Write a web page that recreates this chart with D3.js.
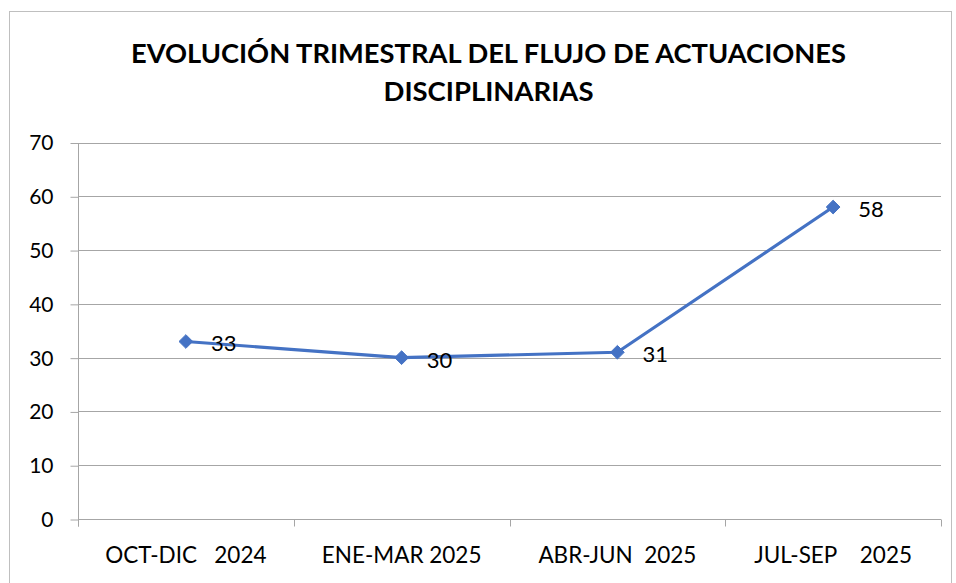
<!DOCTYPE html>
<html><head><meta charset="utf-8">
<script src="https://cdn.jsdelivr.net/npm/d3@7"></script>
<style>
html,body{margin:0;padding:0;background:#fff;}
text{font-family:Lato,"Open Sans",sans-serif;fill:#000;}
</style></head>
<body>
<svg id="chart" width="956" height="583"></svg>
<script>
const titleLines = ["EVOLUCIÓN TRIMESTRAL DEL FLUJO DE ACTUACIONES", "DISCIPLINARIAS"];
const categories = ["OCT-DIC   2024", "ENE-MAR 2025", "ABR-JUN  2025", "JUL-SEP    2025"];
const values = [33, 30, 31, 58];
const yTicks = [0, 10, 20, 30, 40, 50, 60, 70];

(function () {
const svg = d3.select("#chart");
const pLeft = 78, pRight = 941, pTop = 142.5, pBottom = 519;
const gridColor = "#a6a6a6";

// outer border
svg.append("rect").attr("x", 9.5).attr("y", 11.5).attr("width", 942).attr("height", 575)
  .attr("fill", "#fff").attr("stroke", "#bfbfbf").attr("stroke-width", 1);

const x = d3.scaleBand().domain(categories).range([pLeft, pRight]).paddingInner(0).paddingOuter(0);
const y = d3.scaleLinear().domain([0, 70]).range([pBottom, pTop]);

// gridlines
svg.append("g").selectAll("line").data(yTicks.filter(d => d > 0)).join("line")
  .attr("x1", pLeft).attr("x2", pRight)
  .attr("y1", d => Math.round(y(d)) + 0.5).attr("y2", d => Math.round(y(d)) + 0.5)
  .attr("stroke", gridColor).attr("stroke-width", 1);

// y axis
const yAxis = d3.axisLeft(y).tickValues(yTicks).tickSize(8).tickPadding(17).tickFormat(d3.format("d"));
const gy = svg.append("g").attr("transform", `translate(${pLeft + 0.5},0.5)`).call(yAxis);
gy.select(".domain").attr("stroke", gridColor).attr("d", `M0,${pTop}V${pBottom + 7}`);
gy.selectAll(".tick line").attr("stroke", gridColor);
gy.selectAll(".tick text").attr("font-size", 21).attr("font-family", "Lato, sans-serif").attr("fill", "#000")
  .attr("dy", "0.33em");

// x axis
const xAxis = d3.axisBottom(x).tickSize(0).tickPadding(0);
const gx = svg.append("g").attr("transform", `translate(0,${Math.round(pBottom) + 0.5})`).call(xAxis);
gx.select(".domain").attr("stroke", gridColor).attr("d", `M${pLeft},0H${pRight}`);
gx.selectAll(".tick text").attr("font-size", 22.5).attr("font-family", "Lato, sans-serif")
  .attr("fill", "#000").style("white-space", "pre").attr("y", 43.5).attr("dy", 0);
const edges = categories.map(c => x(c)).concat([x(categories[categories.length - 1]) + x.bandwidth()]);
gx.append("g").selectAll("line").data(edges).join("line")
  .attr("x1", d => Math.round(d) + 0.5).attr("x2", d => Math.round(d) + 0.5)
  .attr("y1", 0).attr("y2", 7).attr("stroke", gridColor);

// line
const cx = c => x(c) + x.bandwidth() / 2;
const data = categories.map((c, i) => ({c, v: values[i]}));
svg.append("path").datum(data)
  .attr("d", d3.line().x(d => cx(d.c)).y(d => y(d.v)))
  .attr("fill", "none").attr("stroke", "#4472C4").attr("stroke-width", 3.2).attr("stroke-linejoin", "round");

// markers
svg.append("g").selectAll("path").data(data).join("path")
  .attr("transform", d => `translate(${cx(d.c)},${y(d.v)})`)
  .attr("d", d3.symbol().type(d3.symbolDiamond2).size(120))
  .attr("fill", "#4472C4").attr("stroke", "#4472C4").attr("stroke-width", 1);

// data labels
svg.append("g").selectAll("text").data(data).join("text")
  .attr("x", d => cx(d.c) + 25).attr("y", d => y(d.v) + 2)
  .attr("dy", "0.36em").attr("font-size", 22).text(d => d.v);

// title
const titleWidths = [715, 210];
svg.append("g").selectAll("text").data(titleLines).join("text")
  .attr("x", 488.5).attr("y", (d, i) => 63 + i * 38)
  .attr("text-anchor", "middle").attr("font-size", 27.5).attr("font-weight", "bold")
  .attr("textLength", (d, i) => titleWidths[i]).attr("lengthAdjust", "spacingAndGlyphs")
  .text(d => d);
})();
</script>
</body></html>
